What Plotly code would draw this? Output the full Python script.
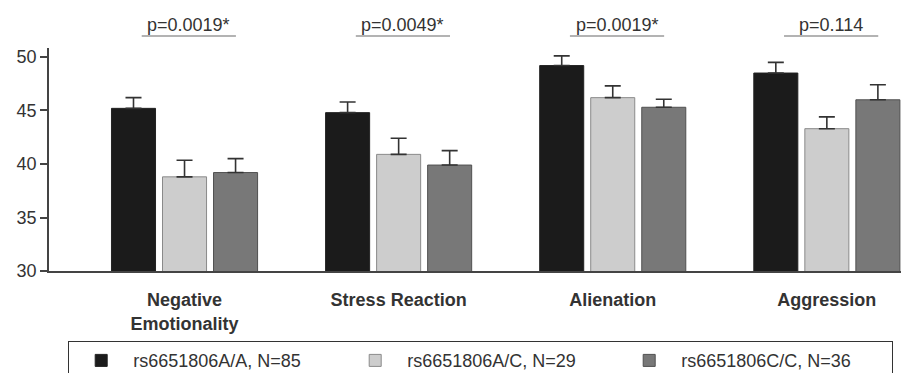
import plotly.graph_objects as go

categories = ["Negative<br>Emotionality", "Stress Reaction", "Alienation", "Aggression"]
series_names = ["rs6651806A/A, N=85", "rs6651806A/C, N=29", "rs6651806C/C, N=36"]
aa_means = [45.2, 44.8, 49.2, 48.5]
ac_means = [38.8, 40.9, 46.2, 43.3]
cc_means = [39.2, 39.9, 45.3, 46.0]
aa_err = [1.0, 1.0, 0.9, 1.0]
ac_err = [1.55, 1.5, 1.1, 1.1]
cc_err = [1.3, 1.35, 0.75, 1.4]
p_labels = ["p=0.0019*", "p=0.0049*", "p=0.0019*", "p=0.114"]

colors = ["#1b1b1b", "#cdcdcd", "#787878"]
outline = ["#222222", "#8a8a8a", "#505050"]
FONT = "Liberation Sans, Arial, Helvetica, sans-serif"

# page body has an 8px default margin; size the figure to fit the window
W, H = 901, 365

fig = go.Figure()
for name, means, errs, col, oc in zip(series_names, [aa_means, ac_means, cc_means],
                                      [aa_err, ac_err, cc_err], colors, outline):
    fig.add_trace(go.Bar(
        x=categories, y=means, name=name,
        marker=dict(color=col, line=dict(color=oc, width=1)),
        error_y=dict(type="data", symmetric=False, array=errs,
                     arrayminus=[0] * len(errs), color="#333333",
                     thickness=1.6, width=8),
    ))

# p-value labels with underline
for i, lab in enumerate(p_labels):
    fig.add_annotation(x=i + 0.02, xref="x", y=1.048, yref="paper", yanchor="bottom",
                       text=lab, showarrow=False,
                       font=dict(family=FONT, size=18, color="#333333"))
    fig.add_shape(type="line", xref="x", yref="paper",
                  x0=i - 0.2, x1=i + 0.24, y0=1.054, y1=1.054,
                  line=dict(color="#9a9a9a", width=1.5))

fig.update_layout(
    width=W, height=H,
    margin=dict(l=41, r=4, t=40, b=102, autoexpand=False),
    paper_bgcolor="white", plot_bgcolor="white",
    barmode="group", bargap=0.285, bargroupgap=0.137,
    font=dict(family=FONT, color="#333333"),
    showlegend=True,
    legend=dict(orientation="h", xref="container", yref="container",
                x=60 / W, xanchor="left", y=1 - 333 / H, yanchor="top",
                bordercolor="#333333", borderwidth=1.2,
                font=dict(family=FONT, size=18, color="#333333"),
                entrywidth=205, entrywidthmode="pixels", itemwidth=54,
                traceorder="normal"),
    xaxis=dict(range=[-0.633, 3.365], showline=True, linecolor="#444444", linewidth=1.5,
               ticks="", showgrid=False, zeroline=False,
               tickfont=dict(family=FONT, size=18, color="#333333", weight="bold"),
               ticklabelstandoff=12),
    yaxis=dict(range=[30, 50.84], dtick=5, tick0=30, showline=True, linecolor="#444444",
               linewidth=1.5, ticks="outside", ticklen=7, tickcolor="#444444",
               tickwidth=1.5, showgrid=False, zeroline=False,
               tickfont=dict(family=FONT, size=18, color="#333333")),
)

fig.write_html("out.html")
